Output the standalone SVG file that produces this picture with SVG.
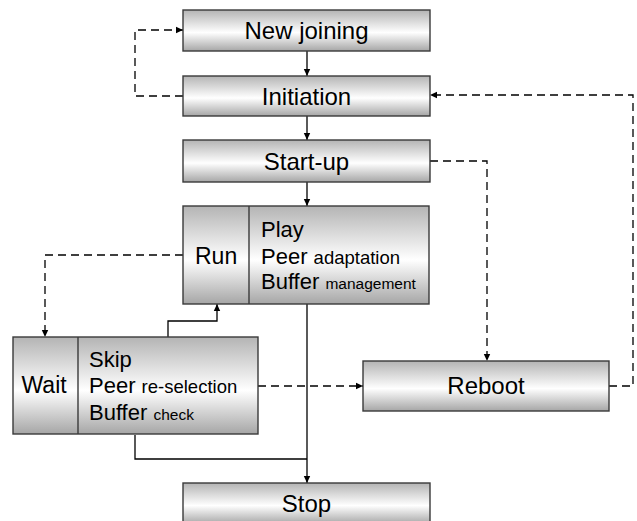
<svg xmlns="http://www.w3.org/2000/svg" width="637" height="521" viewBox="0 0 637 521">
  <defs>
    <linearGradient id="boxFill" x1="0" y1="0" x2="0" y2="1">
      <stop offset="0" stop-color="#b4b4b4"/>
      <stop offset="0.55" stop-color="#ffffff"/>
      <stop offset="1" stop-color="#a6a6a6"/>
    </linearGradient>
    <marker id="arrow" markerUnits="userSpaceOnUse" markerWidth="8" markerHeight="8" refX="7" refY="4" orient="auto">
      <path d="M0,0.8 L7,4 L0,7.2 z" fill="#000"/>
    </marker>
  </defs>
  <style>
    .box { fill: url(#boxFill); stroke: #3a3a3a; stroke-width: 1.4; }
    .div { stroke: #3a3a3a; stroke-width: 1.4; fill: none; }
    .lbl { font-family: "Liberation Sans", Arial, sans-serif; font-size: 24px; fill: #000; }
    .mid { text-anchor: middle; }
    .item { font-family: "Liberation Sans", Arial, sans-serif; font-size: 22px; fill: #000; }
    .s1 { font-size: 18.5px; }
    .s2 { font-size: 15.5px; }
    .solid { fill: none; stroke: #000; stroke-width: 1.3; }
    .dash { fill: none; stroke: #000; stroke-width: 1.3; stroke-dasharray: 8 5; }
  </style>
  <rect width="637" height="521" fill="#fff"/>

  <g id="connectors">
    <path class="solid" d="M307,51 V76" marker-end="url(#arrow)"/>
    <path class="solid" d="M307,116 V140" marker-end="url(#arrow)"/>
    <path class="solid" d="M307,182 V206" marker-end="url(#arrow)"/>
    <path class="dash" d="M183,96 H135 V30 H183" marker-end="url(#arrow)"/>
    <path class="dash" d="M183,255 H45 V337" marker-end="url(#arrow)"/>
    <path class="solid" d="M168,337 V321 H217 V304" marker-end="url(#arrow)"/>
    <path class="solid" d="M307,304 V483" marker-end="url(#arrow)"/>
    <path class="solid" d="M135,435 V459 H307"/>
    <path class="dash" d="M258,386 H363" marker-end="url(#arrow)"/>
    <path class="dash" d="M430,161 H487 V361" marker-end="url(#arrow)"/>
    <path class="dash" d="M609,386 H633 V95 H430" marker-end="url(#arrow)"/>
  </g>

  <g id="new-joining">
    <rect class="box" x="183" y="10" width="247" height="41"/>
    <text class="lbl mid" x="306.5" y="39">New joining</text>
  </g>

  <g id="initiation">
    <rect class="box" x="183" y="76" width="247" height="40"/>
    <text class="lbl mid" x="306.5" y="105">Initiation</text>
  </g>

  <g id="start-up">
    <rect class="box" x="183" y="140" width="247" height="42"/>
    <text class="lbl mid" x="306.5" y="170">Start-up</text>
  </g>

  <g id="run">
    <rect class="box" x="183" y="206" width="246" height="98"/>
    <line class="div" x1="249" y1="206" x2="249" y2="304"/>
    <text class="lbl" x="195" y="264" style="font-size:23px">Run</text>
    <text class="item" x="261" y="237">Play</text>
    <text class="item" x="261" y="264">Peer <tspan class="s1">adaptation</tspan></text>
    <text class="item" x="261" y="289">Buffer <tspan class="s2">management</tspan></text>
  </g>

  <g id="wait">
    <rect class="box" x="13" y="337" width="245" height="97"/>
    <line class="div" x1="78" y1="337" x2="78" y2="434"/>
    <text class="lbl" x="21.5" y="393" style="font-size:23px">Wait</text>
    <text class="item" x="89" y="367">Skip</text>
    <text class="item" x="89" y="393">Peer <tspan class="s1">re-selection</tspan></text>
    <text class="item" x="89" y="420">Buffer <tspan class="s2">check</tspan></text>
  </g>

  <g id="reboot">
    <rect class="box" x="363" y="361" width="246" height="50"/>
    <text class="lbl mid" x="486" y="394">Reboot</text>
  </g>

  <g id="stop">
    <rect class="box" x="183" y="483" width="247" height="41"/>
    <text class="lbl mid" x="306.5" y="512">Stop</text>
  </g>
</svg>
